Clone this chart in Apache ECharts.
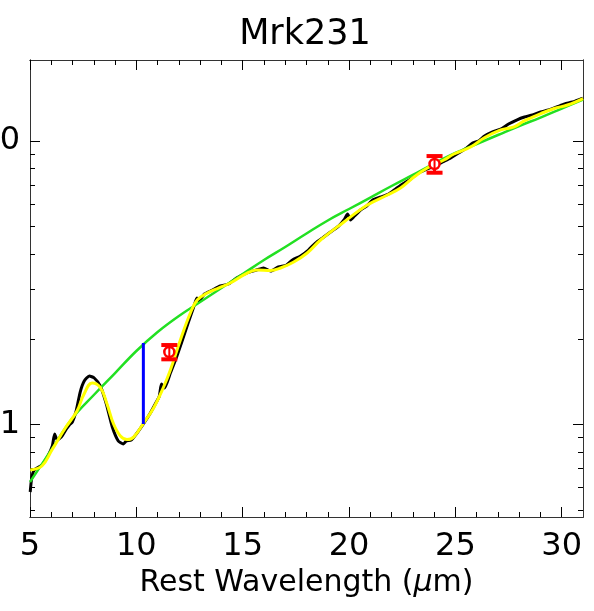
<!DOCTYPE html>
<html>
<head>
<meta charset="utf-8">
<script src="https://cdn.jsdelivr.net/npm/echarts@6/dist/echarts.min.js"></script>
<style>
  html, body { margin: 0; background: #fff; }
  #chart { width: 594px; height: 611px; }
</style>
</head>
<body>
<div id="chart"></div>
<script>
// observed spectrum (black)
const specX = [5.01, 5.08, 5.2, 5.56, 5.86, 6.05, 6.16, 6.28, 6.47, 6.71, 6.85, 6.99, 7.18, 7.36, 7.55, 7.79,
  8.02, 8.31, 8.59, 8.87, 9.15, 9.39, 9.53, 9.76, 10.0, 10.33, 10.66, 10.94, 11.08, 11.18, 11.32, 11.6,
  11.84, 12.12, 12.45, 12.68, 12.85, 12.94, 13.2, 13.58, 13.95, 14.33, 14.71, 15.18, 15.65, 15.98,
  16.31, 16.68, 17.06, 17.34, 17.72, 18.09, 18.42, 18.75, 19.13, 19.51, 19.79, 19.93, 20.07, 20.26,
  20.54, 20.83, 21.11, 21.49, 21.86, 22.19, 22.52, 22.9, 23.27, 23.65, 24.02, 24.4, 24.78, 25.15,
  25.53, 25.81, 26.09, 26.37, 26.75, 27.13, 27.5, 27.88, 28.25, 28.63, 29.01, 29.38, 29.76, 30.14,
  30.51, 30.99];
const specY = [0.578, 0.648, 0.691, 0.72, 0.78, 0.84, 0.926, 0.882, 0.903, 0.964, 0.996, 1.02, 1.125, 1.302, 1.423, 1.483,
  1.459, 1.367, 1.181, 0.98, 0.875, 0.854, 0.875, 0.882, 0.926, 1.004, 1.098, 1.2, 1.26, 1.39, 1.345, 1.519,
  1.688, 1.939, 2.299, 2.576, 2.794, 2.727, 2.886, 2.981, 3.08, 3.13, 3.287, 3.422, 3.508, 3.565,
  3.478, 3.594, 3.653, 3.804, 3.93, 4.126, 4.367, 4.549, 4.775, 5.013, 5.307, 5.527, 5.264, 5.438,
  5.71, 5.898, 6.194, 6.347, 6.504, 6.774, 7.054, 7.345, 7.711, 7.965, 8.162, 8.433, 8.71, 9.073,
  9.448, 9.838, 10.0, 10.41, 10.76, 11.02, 11.48, 11.86, 12.15, 12.35, 12.66, 12.87, 13.18, 13.51,
  13.73, 14.18];

// model fit (yellow)
const fitX = [5.01, 5.56, 6.03, 6.66, 7.21, 7.52, 7.92, 8.31, 8.62, 8.93, 9.25, 9.56, 9.87, 10.34, 10.81,
  11.28, 11.6, 12.07, 12.54, 12.86, 13.33, 13.86, 14.42, 15.21, 15.68, 16.31, 16.78, 17.4, 18.03, 18.66,
  19.76, 20.86, 21.8, 22.42, 23.05, 23.68, 24.46, 24.93, 25.72, 26.34, 27.13, 27.76, 28.23, 29.02,
  29.64, 30.27, 31.0];
const fitY = [0.691, 0.714, 0.813, 0.972, 1.116, 1.271, 1.401, 1.35, 1.181, 1.004, 0.911, 0.885, 0.903, 1.012, 1.144,
  1.356, 1.557, 1.987, 2.474, 2.749, 2.909, 3.03, 3.156, 3.422, 3.508, 3.494, 3.565, 3.743, 4.027, 4.475,
  5.181, 5.947, 6.45, 6.827, 7.464, 8.03, 8.57, 8.999, 9.524, 10.25, 10.94, 11.21, 11.77, 12.5,
  13.02, 13.4, 14.12];

// continuum (green)
const contX = [5, 6, 7, 8, 9, 10, 11, 12, 13, 14, 15, 16, 17, 18, 19, 20, 21, 22, 23, 24, 25, 26, 27, 28, 29, 30, 31];
const contY = [0.627, 0.813, 1.054, 1.271, 1.519, 1.817, 2.12, 2.414, 2.705, 3.03, 3.395, 3.804, 4.228, 4.718,
  5.244, 5.756, 6.319, 6.939, 7.59, 8.33, 9.073, 9.759, 10.5, 11.3, 12.1, 13.02, 14.01];

// silicate depth (blue)
const depthX = [10.33, 10.33];
const depthY = [1.939, 1.004];

// photometry with error bars (red)
const photX = [11.55, 24.02];
const photY = [1.802, 8.297];
const photLo = [1.698, 7.73];
const photHi = [1.907, 8.85];

// ticks
const xMajor = [5, 10, 15, 20, 25, 30];
const xMinor = [6, 7, 8, 9, 11, 12, 13, 14, 16, 17, 18, 19, 21, 22, 23, 24, 26, 27, 28, 29];
const yMajor = [1, 10];
const yMinor = [0.5, 0.6, 0.7, 0.8, 0.9, 2, 3, 4, 5, 6, 7, 8, 9];

const zip = (a, b) => a.map((v, i) => [v, b[i]]);
const font = 'DejaVu Sans';
const axisColor = '#333';

function xAx(position, ticks, len, labels) {
  return {
    type: 'value', min: 5, max: 31, position: position,
    axisLine: { show: true, lineStyle: { color: axisColor, width: 1 } },
    axisTick: { show: true, inside: true, length: len, customValues: ticks, lineStyle: { color: '#000', width: 1 } },
    axisLabel: labels ? { show: true, customValues: ticks, margin: 14, fontSize: 32, color: '#000', fontFamily: font }
                      : { show: false },
    splitLine: { show: false }
  };
}
function yAx(position, ticks, len, labels) {
  return {
    type: 'log', logBase: 10, min: 0.4718, max: 19.31, position: position,
    axisLine: { show: true, lineStyle: { color: axisColor, width: 1 } },
    axisTick: { show: true, inside: true, length: len, customValues: ticks, lineStyle: { color: '#000', width: 1 } },
    axisLabel: labels ? { show: true, customValues: ticks, margin: 10, fontSize: 32, color: '#000', fontFamily: font }
                      : { show: false },
    splitLine: { show: false }
  };
}

function renderErr(params, api) {
  const x = api.value(0), y = api.value(1), lo = api.value(2), hi = api.value(3);
  const c = api.coord([x, y]);
  const a = api.coord([x, lo]);
  const b = api.coord([x, hi]);
  const w = 8;
  return {
    type: 'group',
    children: [
      { type: 'line', shape: { x1: c[0], y1: a[1], x2: c[0], y2: b[1] }, style: { stroke: '#ff0000', lineWidth: 3 } },
      { type: 'line', shape: { x1: c[0] - w, y1: a[1], x2: c[0] + w, y2: a[1] }, style: { stroke: '#ff0000', lineWidth: 4 } },
      { type: 'line', shape: { x1: c[0] - w, y1: b[1], x2: c[0] + w, y2: b[1] }, style: { stroke: '#ff0000', lineWidth: 4 } },
      { type: 'circle', shape: { cx: c[0], cy: c[1], r: 5 }, style: { fill: '#fff', stroke: '#ff0000', lineWidth: 2.5 } },
      { type: 'line', shape: { x1: c[0], y1: c[1] - 5, x2: c[0], y2: c[1] + 5 }, style: { stroke: '#ff0000', lineWidth: 2 } }
    ]
  };
}

const chart = echarts.init(document.getElementById('chart'), null, { renderer: 'canvas' });
chart.setOption({
  animation: false,
  backgroundColor: '#fff',
  title: {
    text: 'Mrk231', left: 300, top: 12, textAlign: 'center',
    textStyle: { fontFamily: font, fontSize: 35, fontWeight: 'normal', color: '#000' }
  },
  grid: { left: 30, right: 11, top: 60, bottom: 94, containLabel: false, outerBoundsMode: 'none' },
  xAxis: [
    Object.assign(xAx('bottom', xMajor, 10, true), {
      name: 'Rest Wavelength ({mu|μ}m)', nameLocation: 'middle', nameGap: 50,
      nameTextStyle: { fontFamily: font, fontSize: 30, color: '#000',
        rich: { mu: { fontFamily: font, fontSize: 30, fontStyle: 'italic', color: '#000' } } }
    }),
    xAx('bottom', xMinor, 5, false),
    xAx('top', xMajor, 10, false),
    xAx('top', xMinor, 5, false)
  ],
  yAxis: [
    yAx('left', yMajor, 10, true),
    yAx('left', yMinor, 5, false),
    yAx('right', yMajor, 10, false),
    yAx('right', yMinor, 5, false)
  ],
  series: [
    { type: 'line', data: zip(specX, specY), showSymbol: false, smooth: 0.2,
      lineStyle: { color: '#000', width: 3 }, z: 2 },
    { type: 'line', data: zip(contX, contY), showSymbol: false, smooth: 0.4,
      lineStyle: { color: '#22e022', width: 2.5 }, z: 3 },
    { type: 'line', data: zip(fitX, fitY), showSymbol: false, smooth: 0.4,
      lineStyle: { color: '#ffff00', width: 3 }, z: 4 },
    { type: 'line', data: zip(depthX, depthY), showSymbol: false,
      lineStyle: { color: '#0000ff', width: 3 }, z: 5 },
    { type: 'custom', renderItem: renderErr, z: 6,
      data: photX.map((v, i) => [v, photY[i], photLo[i], photHi[i]]),
      encode: { x: 0, y: 1 } }
  ]
});
</script>
</body>
</html>
